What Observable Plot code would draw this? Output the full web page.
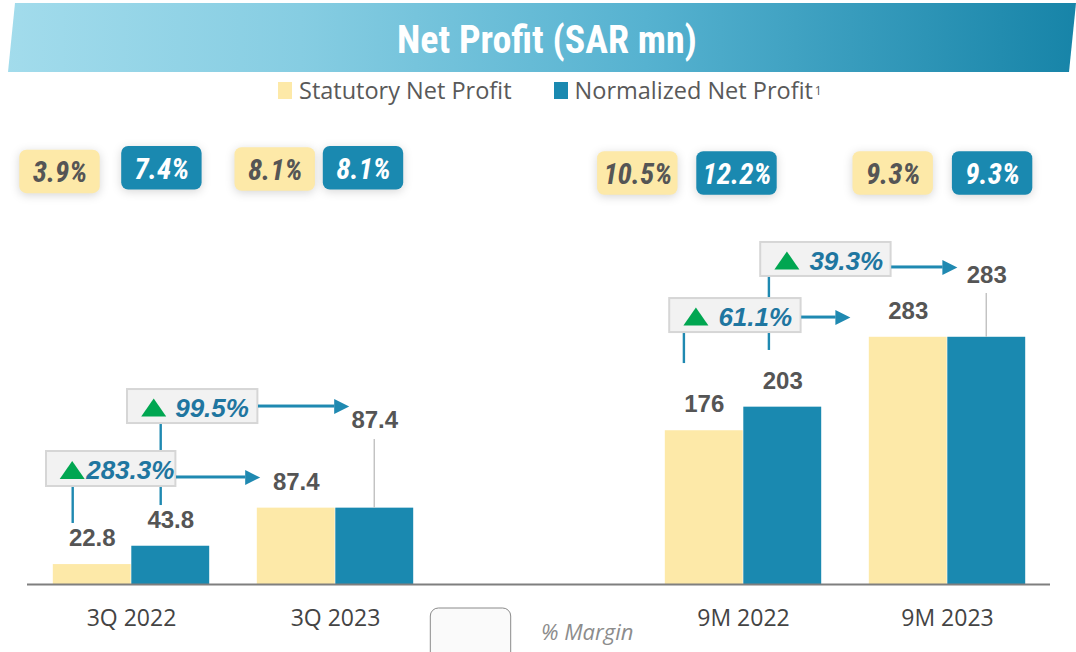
<!DOCTYPE html>
<html><head><meta charset="utf-8">
<script src="https://cdn.jsdelivr.net/npm/d3@7"></script>
<script src="https://cdn.jsdelivr.net/npm/@observablehq/plot@0.6"></script>
<style>
body{margin:0;background:#fff;width:1076px;height:652px;overflow:hidden;position:relative;font-family:"Open Sans",sans-serif}
#banner{position:absolute;left:0;top:3px;width:1076px;height:69px;clip-path:polygon(15px 0,1076px 0,1069px 69px,8px 69px);background:linear-gradient(90deg,#a3dcec 0%,#86cde2 28%,#56b2d0 60%,#1784a8 100%);}
#title{position:absolute;left:0;top:5px;width:1076px;height:69px;display:flex;align-items:center;justify-content:center;padding-left:18px;box-sizing:border-box;color:#fff;font-weight:bold;font-size:38px;font-family:"Liberation Sans Narrow","Roboto Condensed","Roboto",sans-serif}
#legend{position:absolute;top:74px;left:278px;display:flex;align-items:center;font-size:23.5px;color:#595959;white-space:nowrap}
#legend .sw{display:inline-block;width:14px;height:17px;margin-right:7px}
#legend .item{display:flex;align-items:center;margin-right:42px}
#legend sup{font-size:12px;vertical-align:super;margin-left:2px}
#chart{position:absolute;left:0;top:120px}
g[aria-description="margin"] rect{filter:drop-shadow(0 2px 5px rgba(0,0,0,.16))}
</style></head>
<body>
<div id="banner"></div>
<div id="title">Net Profit (SAR mn)</div>
<div id="legend"></div>
<div id="chart"></div>
<script>
// ---------- data ----------
const categories = ["3Q 2022", "3Q 2023", "9M 2022", "9M 2023"];
const series = ["Statutory Net Profit", "Normalized Net Profit"];
const statutory = [22.8, 87.4, 176, 283];
const normalized = [43.8, 87.4, 203, 283];
const statutoryMargin = ["3.9%", "8.1%", "10.5%", "9.3%"];
const normalizedMargin = ["7.4%", "8.1%", "12.2%", "9.3%"];
const comparisons = [["3Q 2022", "3Q 2023"], ["9M 2022", "9M 2023"]];
const statutoryGrowth = ["283.3%", "61.1%"];
const normalizedGrowth = ["99.5%", "39.3%"];
const marginLabel = "% Margin";
const footnote = "1";
const gapKey = "gap";

// ---------- style / layout ----------
const C = {stat: "#fde9a8", norm: "#1a89b0", label: "#555555", growth: "#1f76a0",
  line: "#1f89b1", green: "#00a651", grey: "#c0c0c0"};
const L = {
  W: 1076, H: 532, mL: 27, mR: 26, mT: 1, mB: 68, yTop: 530, pad: 23.8,
  labelDy: -26,
  lift: {"3Q 2023": {dy: -87.6, lead: -68.6}, "9M 2023": {dy: -62.3, lead: -43.8}},
  margin: [
    {s: [-71.5, 50.4], n: [30.4, 46.8]},
    {s: [-60.3, 48], n: [28, 46.8]},
    {s: [-105.7, 52], n: [-6.5, 52]},
    {s: [-54.3, 52], n: [45.1, 52]}
  ],
  growth: [
    [ {bx: -20.3, by: -95.6, w: 130, h: 35, cx: -58.3, cb: -41.1, ay: -87.1, tip: 128.7, tri: 26, tx: 40},
      {bx: -8.1, by: -115.2, w: 132, h: 34, cx: -59.1, cb: -67.2, ay: -113.2, tip: 106.9, tri: 26.5, tx: 49} ],
    [ {bx: 61.2, by: -139.7, w: 131, h: 34, cx: 29.7, cb: -40.7, ay: -139.7, tip: 217.7, tri: 26.5, tx: 48},
      {bx: 82.4, by: -147.7, w: 131, h: 34, cx: 25.9, cb: -56.7, ay: -139.7, tip: 213.9, tri: 26.5, tx: 49} ]
  ]
};

// legend (HTML)
const legendColors = [C.stat, C.norm];
document.getElementById("legend").innerHTML = series.map((s, i) =>
  `<span class="item"><span class="sw" style="background:${legendColors[i]}"></span>${s}${i === 1 ? `<sup>${footnote}</sup>` : ""}</span>`).join("");

const slots = [categories[0], categories[1], gapKey, categories[2], categories[3]];
const bw = (L.W - L.mL - L.mR) / slots.length;
const half = bw / 2;
const barOff = (half - L.pad) / 2;
const sOff = [-barOff, barOff];

const rows = categories.flatMap((c, i) => [
  {cat: c, series: series[0], value: statutory[i], margin: statutoryMargin[i], k: 0, i},
  {cat: c, series: series[1], value: normalized[i], margin: normalizedMargin[i], k: 1, i}
]);

function box(data, o, style) {
  return Plot.barY(data, {
    x: "cat", y1: o.y, y2: o.y,
    insetLeft: half + o.cx - o.w / 2, insetRight: half - o.cx - o.w / 2,
    insetTop: -o.h / 2, insetBottom: -o.h / 2, dy: o.cy, ...style
  });
}
const upTriangle = {draw(ctx, size) { const s = Math.sqrt(size);
  ctx.moveTo(0, -0.36 * s); ctx.lineTo(0.5 * s, 0.36 * s); ctx.lineTo(-0.5 * s, 0.36 * s); ctx.closePath(); }};
const arrowHead = {draw(ctx, size) { const s = Math.sqrt(size);
  ctx.moveTo(0, 0); ctx.lineTo(-s, -s / 2); ctx.lineTo(-s, s / 2); ctx.closePath(); }};
const rFor = s => s / Math.sqrt(Math.PI);

const marks = [];
// bars
series.forEach((s, k) => {
  marks.push(Plot.barY(rows.filter(d => d.k === k), {x: "cat", y: "value", fill: "series",
    insetLeft: k === 0 ? L.pad : half, insetRight: k === 0 ? half : L.pad}));
});
marks.push(Plot.ruleY([0], {stroke: "#7f7f7f", strokeWidth: 2}));
marks.push(Plot.axisX({tickSize: 0, tickPadding: 25, label: null, fontSize: 23, tickFormat: d => d === gapKey ? "" : d, fill: "#444"}));

// value labels
const labelStyle = {fontFamily: "Liberation Sans, Arial, sans-serif", fontWeight: "bold", fontSize: 24, fill: C.label};
series.forEach((s, k) => {
  const plain = rows.filter(d => d.k === k && !(k === 1 && L.lift[d.cat]));
  marks.push(Plot.text(plain, {x: "cat", y: "value", text: d => String(d.value), dx: sOff[k], dy: L.labelDy, ...labelStyle}));
});
rows.filter(d => d.k === 1 && L.lift[d.cat]).forEach(d => {
  const lf = L.lift[d.cat];
  marks.push(box([d], {y: "value", cx: sOff[1], cy: lf.lead / 2, w: 2, h: -lf.lead}, {fill: C.grey}));
  marks.push(Plot.text([d], {x: "cat", y: "value", text: r => String(r.value), dx: sOff[1], dy: lf.dy, ...labelStyle}));
});

// margin boxes
const mStyle = {fontFamily: "Liberation Sans Narrow, Roboto Condensed, Roboto, sans-serif", fontWeight: "bold", fontStyle: "italic", fontSize: 29};
rows.forEach(d => {
  const [cx, cy] = L.margin[d.i][d.k === 0 ? "s" : "n"];
  marks.push(box([d], {y: () => L.yTop, cx, cy, w: 81, h: 43.5},
    {fill: d.k === 0 ? C.stat : C.norm, rx: 7, ariaDescription: "margin"}));
  marks.push(Plot.text([d], {x: "cat", y: () => L.yTop, text: "margin", dx: cx, dy: cy + 1,
    fill: d.k === 0 ? C.label : "#ffffff", ...mStyle}));
});

// growth annotations
const growth = [];
comparisons.forEach(([from, to], j) => {
  series.forEach((s, k) => {
    const vals = k === 0 ? statutory : normalized;
    growth.push({cat: from, to, series: s, value: vals[categories.indexOf(from)],
      pct: (k === 0 ? statutoryGrowth : normalizedGrowth)[j], lay: L.growth[k][j]});
  });
});
growth.forEach(g => { const o = g.lay; const top = o.by + o.h / 2;
  marks.push(box([g], {y: "value", cx: o.cx, cy: (top + o.cb) / 2, w: 3, h: o.cb - top}, {fill: C.line}));
});
growth.forEach(g => { const o = g.lay;
  marks.push(box([g], {y: "value", cx: o.bx, cy: o.by, w: o.w, h: o.h}, {fill: "#f2f2f2", stroke: "#d6d6d6", strokeWidth: 2}));
  marks.push(Plot.dot([g], {x: "cat", y: "value", dx: o.bx - o.w / 2 + o.tri, dy: o.by + 1, symbol: upTriangle, r: rFor(25), fill: C.green, stroke: "none"}));
  marks.push(Plot.text([g], {x: "cat", y: "value", text: "pct", dx: o.bx - o.w / 2 + o.tx, dy: o.by + 2, textAnchor: "start",
    fontFamily: "Liberation Sans, Arial, sans-serif", fontWeight: "bold", fontStyle: "italic", fontSize: 26, fill: C.growth}));
  const xr = o.bx + o.w / 2, xe = o.tip - 14;
  marks.push(box([g], {y: "value", cx: (xr + xe) / 2, cy: o.ay, w: xe - xr, h: 3}, {fill: C.line}));
  marks.push(Plot.dot([g], {x: "cat", y: "value", dx: o.tip, dy: o.ay, symbol: arrowHead, r: rFor(15), fill: C.line, stroke: "none"}));
});

// "% Margin" key
const key = [{cat: gapKey, v: 0, text: marginLabel}];
marks.push(box(key, {y: "v", cx: -68.5, cy: 54, w: 81, h: 60}, {fill: "#fafafa", stroke: "#8a8a8a", strokeWidth: 1, rx: 8}));
marks.push(Plot.text(key, {x: "cat", y: "v", text: "text", dx: 1.5, dy: 48, textAnchor: "start", fontStyle: "italic", fontSize: 22, fill: "#8c8c8c"}));

const chart = Plot.plot({
  width: L.W, height: L.H, marginLeft: L.mL, marginRight: L.mR, marginTop: L.mT, marginBottom: L.mB,
  x: {domain: slots, padding: 0, label: null},
  y: {domain: [0, L.yTop], axis: null},
  color: {domain: series, range: [C.stat, C.norm]},
  style: {fontFamily: "Open Sans, sans-serif", fontSize: "22px", color: "#444", background: "transparent", overflow: "visible"},
  marks
});
document.getElementById("chart").appendChild(chart);
</script>
</body></html>
